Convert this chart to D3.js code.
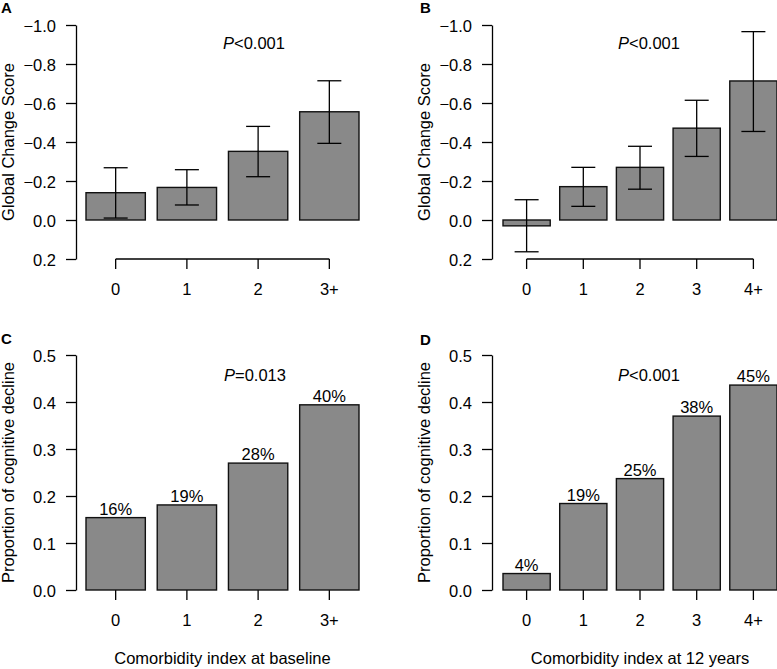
<!DOCTYPE html>
<html>
<head>
<meta charset="utf-8">
<script src="https://cdn.jsdelivr.net/npm/d3@7"></script>
<style>
  body { margin: 0; background: #fff; }
  text { font-family: "Liberation Sans", Arial, sans-serif; fill: #000; }
</style>
</head>
<body>
<div id="chart"></div>
<script>
// panel A: global change score by comorbidity index at baseline
var catsA = ["0", "1", "2", "3+"];
var meanA = [-0.14, -0.167, -0.352, -0.555];
var lowA = [-0.01, -0.077, -0.222, -0.393];
var highA = [-0.268, -0.258, -0.48, -0.714];

// panel B: global change score by comorbidity index at 12 years
var catsB = ["0", "1", "2", "3", "4+"];
var meanB = [0.03, -0.171, -0.27, -0.471, -0.713];
var lowB = [0.163, -0.07, -0.158, -0.326, -0.454];
var highB = [-0.104, -0.27, -0.378, -0.614, -0.966];

// panels C and D: proportion with cognitive decline
var propC = [0.154, 0.181, 0.270, 0.394];
var pctC = ["16%", "19%", "28%", "40%"];
var propD = [0.035, 0.184, 0.237, 0.370, 0.436];
var pctD = ["4%", "19%", "25%", "38%", "45%"];

var changeTicks = [-1.0, -0.8, -0.6, -0.4, -0.2, 0.0, 0.2];
var propTicks = [0, 0.1, 0.2, 0.3, 0.4, 0.5];

var width = 777, height = 669;
var fontSize = "16.5px";
var barFill = "#898989";

var svg = d3.select("#chart").append("svg")
  .attr("width", width)
  .attr("height", height);

function drawPanel(p) {
  var g = svg.append("g");
  var y = d3.scaleLinear()
    .domain(p.yDomain)
    .range([p.yBot, p.yTop]);
  var x = d3.scaleBand()
    .domain(p.cats)
    .range([p.barsLeft, p.barsRight])
    .paddingInner(0.167)
    .paddingOuter(0);
  var half = x.bandwidth() / 2;

  // y axis
  var yAxis = g.append("g")
    .attr("transform", "translate(" + p.axisX + ",0)")
    .call(d3.axisLeft(y)
      .tickValues(p.yTicks)
      .tickFormat(d3.format(".1f"))
      .tickSize(10)
      .tickSizeOuter(0)
      .tickPadding(10));
  yAxis.selectAll("text").attr("font-size", fontSize).attr("dy", "0.4em");
  yAxis.selectAll("line, path").attr("stroke", "#000").attr("stroke-width", 1.3);
  yAxis.attr("font-family", null);

  // x axis
  var xAxis = g.append("g")
    .attr("transform", "translate(0," + p.xAxisY + ")")
    .call(d3.axisBottom(x).tickSize(10).tickPadding(14));
  xAxis.select(".domain").remove();
  xAxis.attr("font-family", null);
  xAxis.selectAll("text").attr("font-size", fontSize);
  xAxis.selectAll("line").attr("stroke", "#000").attr("stroke-width", 1.3);
  if (p.xLine) {
    xAxis.append("line")
      .attr("x1", x(p.cats[0]) + half)
      .attr("x2", x(p.cats[p.cats.length - 1]) + half)
      .attr("stroke", "#000")
      .attr("stroke-width", 1.3);
  }

  // bars
  g.selectAll("rect.bar")
    .data(p.values)
    .enter().append("rect")
    .attr("class", "bar")
    .attr("x", (d, i) => x(p.cats[i]))
    .attr("width", x.bandwidth())
    .attr("y", d => Math.min(y(d), y(0)))
    .attr("height", d => Math.abs(y(d) - y(0)))
    .attr("fill", barFill)
    .attr("stroke", "#111")
    .attr("stroke-width", 1.4);

  // error bars
  if (p.low) {
    var cap = 12;
    p.values.forEach(function(v, i) {
      var cx = x(p.cats[i]) + half;
      g.append("line")
        .attr("x1", cx).attr("x2", cx)
        .attr("y1", y(p.low[i])).attr("y2", y(p.high[i]))
        .attr("stroke", "#000").attr("stroke-width", 1.3);
      [p.low[i], p.high[i]].forEach(function(e) {
        g.append("line")
          .attr("x1", cx - cap).attr("x2", cx + cap)
          .attr("y1", y(e)).attr("y2", y(e))
          .attr("stroke", "#000").attr("stroke-width", 1.3);
      });
    });
  }

  // percent labels above bars
  if (p.labels) {
    g.selectAll("text.pct")
      .data(p.values)
      .enter().append("text")
      .attr("class", "pct")
      .attr("x", (d, i) => x(p.cats[i]) + half)
      .attr("y", d => y(d) - 3)
      .attr("text-anchor", "middle")
      .attr("font-size", fontSize)
      .text((d, i) => p.labels[i]);
  }

  // P value
  var pt = g.append("text")
    .attr("x", p.pX)
    .attr("y", p.pY)
    .attr("text-anchor", "middle")
    .attr("font-size", fontSize);
  pt.append("tspan").attr("font-style", "italic").text("P");
  pt.append("tspan").text(p.pText);

  // y title
  g.append("text")
    .attr("transform", "translate(" + (p.axisX - 62) + "," + ((p.yTop + p.yBot) / 2) + ") rotate(-90)")
    .attr("text-anchor", "middle")
    .attr("font-size", fontSize)
    .text(p.yTitle);

  // x title
  if (p.xTitle) {
    g.append("text")
      .attr("x", (p.barsLeft + p.barsRight) / 2)
      .attr("y", 664)
      .attr("text-anchor", "middle")
      .attr("font-size", fontSize)
      .text(p.xTitle);
  }

  // panel letter
  g.append("text")
    .attr("x", p.letterX)
    .attr("y", p.letterY)
    .attr("font-size", "15px")
    .attr("font-weight", "bold")
    .text(p.letter);
}

drawPanel({
  letter: "A", letterX: 1, letterY: 13,
  cats: catsA, values: meanA, low: lowA, high: highA,
  yDomain: [0.2, -1.0], yTicks: changeTicks, yTop: 25, yBot: 259,
  axisX: 76, barsLeft: 86, barsRight: 359, xAxisY: 259, xLine: true,
  pX: 254, pY: 49, pText: "<0.001", yTitle: "Global Change Score"
});
drawPanel({
  letter: "B", letterX: 420, letterY: 13,
  cats: catsB, values: meanB, low: lowB, high: highB,
  yDomain: [0.2, -1.0], yTicks: changeTicks, yTop: 25, yBot: 259,
  axisX: 492, barsLeft: 503, barsRight: 777, xAxisY: 259, xLine: true,
  pX: 649, pY: 49, pText: "<0.001", yTitle: "Global Change Score"
});
drawPanel({
  letter: "C", letterX: 1, letterY: 344,
  cats: catsA, values: propC, labels: pctC,
  yDomain: [0, 0.5], yTicks: propTicks, yTop: 355, yBot: 590,
  axisX: 76, barsLeft: 86, barsRight: 359, xAxisY: 590, xLine: false,
  pX: 255, pY: 381, pText: "=0.013", yTitle: "Proportion of cognitive decline",
  xTitle: "Comorbidity index at baseline"
});
drawPanel({
  letter: "D", letterX: 420, letterY: 345,
  cats: catsB, values: propD, labels: pctD,
  yDomain: [0, 0.5], yTicks: propTicks, yTop: 355, yBot: 590,
  axisX: 492, barsLeft: 503, barsRight: 777, xAxisY: 590, xLine: false,
  pX: 649, pY: 381, pText: "<0.001", yTitle: "Proportion of cognitive decline",
  xTitle: "Comorbidity index at 12 years"
});
</script>
</body>
</html>
